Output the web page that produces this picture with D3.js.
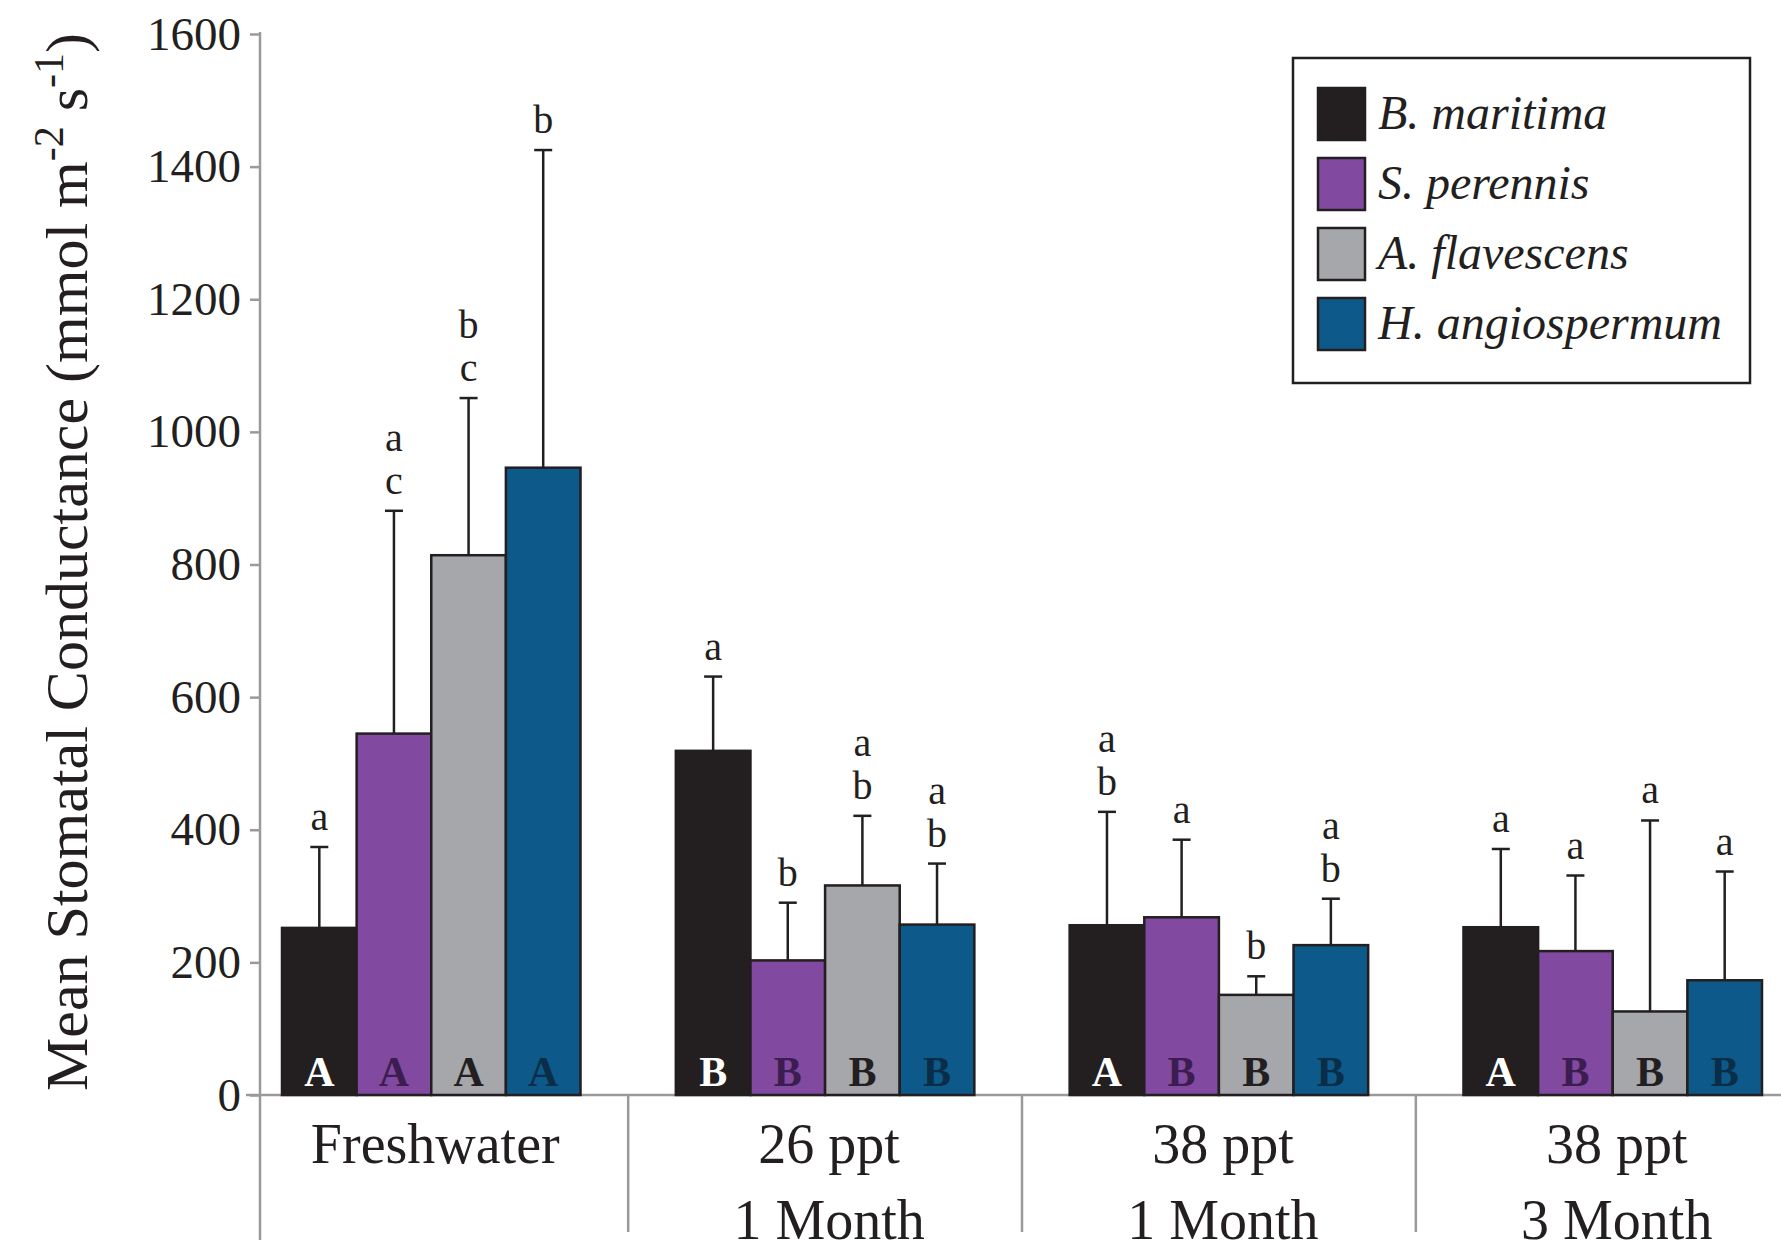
<!DOCTYPE html>
<html>
<head>
<meta charset="utf-8">
<script src="https://cdn.jsdelivr.net/npm/d3@7"></script>
<style>
  html, body { margin: 0; padding: 0; background: #fff; }
  svg { display: block; }
</style>
</head>
<body>
<svg></svg>
<script>
// treatment groups (two-line labels)
const groupLine1 = ['Freshwater', '26 ppt', '38 ppt', '38 ppt'];
const groupLine2 = ['', '1 Month', '1 Month', '3 Month'];

const species = ['B. maritima', 'S. perennis', 'A. flavescens', 'H. angiospermum'];
const colors = ['#231f20', '#8249a0', '#a5a7ab', '#0d5a8a'];
const innerLetterColors = ['#ffffff', '#3b1d50', '#231f20', '#0a2d48'];

// mean stomatal conductance per species, one value per treatment group
const bMaritima = [252, 519, 256, 253];
const sPerennis = [545, 203, 268, 217];
const aFlavescens = [814, 316, 151, 126];
const hAngiospermum = [946, 257, 226, 173];

// upper error (SE) per species
const bMaritimaErr = [122, 112, 171, 118];
const sPerennisErr = [336, 87, 117, 114];
const aFlavescensErr = [237, 105, 28, 288];
const hAngiospermumErr = [479, 92, 70, 164];

// letters above the error bars (top letter first)
const bMaritimaSig = ['a', 'a', 'ab', 'a'];
const sPerennisSig = ['ac', 'b', 'a', 'a'];
const aFlavescensSig = ['bc', 'ab', 'b', 'a'];
const hAngiospermumSig = ['b', 'ab', 'ab', 'a'];

// letters inside the bars
const bMaritimaTrt = ['A', 'B', 'A', 'A'];
const sPerennisTrt = ['A', 'B', 'B', 'B'];
const aFlavescensTrt = ['A', 'B', 'B', 'B'];
const hAngiospermumTrt = ['A', 'B', 'B', 'B'];

const yTicks = [0, 200, 400, 600, 800, 1000, 1200, 1400, 1600];

const means = [bMaritima, sPerennis, aFlavescens, hAngiospermum];
const errs = [bMaritimaErr, sPerennisErr, aFlavescensErr, hAngiospermumErr];
const sigs = [bMaritimaSig, sPerennisSig, aFlavescensSig, hAngiospermumSig];
const trts = [bMaritimaTrt, sPerennisTrt, aFlavescensTrt, hAngiospermumTrt];

const width = 1781;
const height = 1253;
const font = "'Liberation Serif', 'Times New Roman', serif";
const ink = '#231f20';
const axisGray = '#9a9a9a';

const svg = d3.select('svg')
  .attr('width', width)
  .attr('height', height)
  .style('font-family', font);

const axisX = 260;
const baseY = 1095;

const groupIdx = d3.range(groupLine1.length);

const x0 = d3.scaleBand()
  .domain(groupIdx)
  .range([282, 1762])
  .paddingInner(0.242)
  .paddingOuter(0);

const x1 = d3.scaleBand()
  .domain(d3.range(species.length))
  .range([0, x0.bandwidth()]);

const y = d3.scaleLinear()
  .domain([0, 1600])
  .range([baseY, 34]);

// flatten into bar records
const bars = [];
groupIdx.forEach(g => {
  species.forEach((s, i) => {
    bars.push({
      g, i,
      mean: means[i][g],
      err: errs[i][g],
      sig: sigs[i][g],
      trt: trts[i][g]
    });
  });
});

// y axis
const yAxis = d3.axisLeft(y)
  .tickValues(yTicks)
  .tickFormat(d3.format('d'))
  .tickSize(10)
  .tickPadding(9)
  .tickSizeOuter(0);

const yg = svg.append('g')
  .attr('transform', `translate(${axisX},0)`)
  .call(yAxis);
yg.select('.domain').remove();
yg.selectAll('.tick line').attr('stroke', axisGray).attr('stroke-width', 2.5);
yg.selectAll('.tick text')
  .attr('fill', ink)
  .style('font-family', font)
  .style('font-size', '47px');

// vertical axis line (runs down into the category area)
svg.append('line')
  .attr('x1', axisX).attr('x2', axisX)
  .attr('y1', y(1600) - 2).attr('y2', 1240)
  .attr('stroke', axisGray).attr('stroke-width', 2.5);

// baseline
svg.append('line')
  .attr('x1', axisX - 14).attr('x2', width)
  .attr('y1', baseY).attr('y2', baseY)
  .attr('stroke', axisGray).attr('stroke-width', 2.5);

// group dividers
svg.selectAll('line.divider')
  .data(groupIdx.slice(1))
  .enter()
  .append('line')
  .attr('class', 'divider')
  .attr('x1', g => x0(g) - x0.step() * x0.paddingInner() / 2)
  .attr('x2', g => x0(g) - x0.step() * x0.paddingInner() / 2)
  .attr('y1', baseY)
  .attr('y2', 1232)
  .attr('stroke', axisGray)
  .attr('stroke-width', 2.5);

// category labels
const catText = svg.selectAll('text.cat')
  .data(groupIdx)
  .enter()
  .append('text')
  .attr('class', 'cat')
  .attr('text-anchor', 'middle')
  .attr('fill', ink)
  .style('font-size', '56px');
catText.append('tspan')
  .attr('x', g => x0(g) + x0.bandwidth() / 2 + 4)
  .attr('y', 1163)
  .text(g => groupLine1[g]);
catText.append('tspan')
  .attr('x', g => x0(g) + x0.bandwidth() / 2 + 4)
  .attr('y', 1239)
  .text(g => groupLine2[g]);

// bars
const barX = d => x0(d.g) + x1(d.i);

svg.selectAll('rect.bar')
  .data(bars)
  .enter()
  .append('rect')
  .attr('class', 'bar')
  .attr('x', barX)
  .attr('y', d => y(d.mean))
  .attr('width', x1.bandwidth())
  .attr('height', d => baseY - y(d.mean))
  .attr('fill', d => colors[d.i])
  .attr('stroke', ink)
  .attr('stroke-width', 2.5);

// error bars (upper only)
const errG = svg.selectAll('g.err')
  .data(bars)
  .enter()
  .append('g')
  .attr('class', 'err')
  .attr('stroke', ink)
  .attr('stroke-width', 2.5);
errG.append('line')
  .attr('x1', d => barX(d) + x1.bandwidth() / 2)
  .attr('x2', d => barX(d) + x1.bandwidth() / 2)
  .attr('y1', d => y(d.mean))
  .attr('y2', d => y(d.mean + d.err));
errG.append('line')
  .attr('x1', d => barX(d) + x1.bandwidth() / 2 - 9)
  .attr('x2', d => barX(d) + x1.bandwidth() / 2 + 9)
  .attr('y1', d => y(d.mean + d.err))
  .attr('y2', d => y(d.mean + d.err));

// significance letters above the error bars
svg.selectAll('text.sig')
  .data(bars.flatMap(d => d.sig.split('').reverse().map((ch, k) => ({ ...d, ch, k }))))
  .enter()
  .append('text')
  .attr('class', 'sig')
  .attr('text-anchor', 'middle')
  .attr('fill', ink)
  .style('font-size', '40px')
  .attr('x', d => barX(d) + x1.bandwidth() / 2)
  .attr('y', d => y(d.mean + d.err) - 17 - d.k * 43)
  .text(d => d.ch);

// treatment letters inside bars
svg.selectAll('text.trt')
  .data(bars)
  .enter()
  .append('text')
  .attr('class', 'trt')
  .attr('text-anchor', 'middle')
  .attr('font-weight', 'bold')
  .attr('fill', d => innerLetterColors[d.i])
  .style('font-size', '42px')
  .attr('x', d => barX(d) + x1.bandwidth() / 2)
  .attr('y', baseY - 9)
  .text(d => d.trt);

// y axis title
const yTitle = svg.append('text')
  .attr('transform', `translate(87, 562) rotate(-90)`)
  .attr('text-anchor', 'middle')
  .attr('fill', ink)
  .style('font-size', '60px');
yTitle.append('tspan').text('Mean Stomatal Conductance (mmol m');
yTitle.append('tspan').attr('dy', -24).style('font-size', '42px').text('-2');
yTitle.append('tspan').attr('dy', 24).text(' s');
yTitle.append('tspan').attr('dy', -24).style('font-size', '42px').text('-1');
yTitle.append('tspan').attr('dy', 24).text(')');

// legend
const legend = svg.append('g');
legend.append('rect')
  .attr('x', 1293).attr('y', 58)
  .attr('width', 457).attr('height', 325)
  .attr('fill', '#fff')
  .attr('stroke', ink)
  .attr('stroke-width', 2.5);

const legendRow = d3.scaleBand()
  .domain(d3.range(species.length))
  .range([88, 88 + 70 * species.length]);

const items = legend.selectAll('g.item')
  .data(species)
  .enter()
  .append('g')
  .attr('class', 'item')
  .attr('transform', (d, i) => `translate(1318,${legendRow(i)})`);
items.append('rect')
  .attr('width', 47)
  .attr('height', 52)
  .attr('fill', (d, i) => colors[i])
  .attr('stroke', ink)
  .attr('stroke-width', 2.5);
items.append('text')
  .attr('x', 60)
  .attr('y', 41)
  .attr('fill', ink)
  .attr('font-style', 'italic')
  .style('font-size', '48px')
  .text(d => d);
</script>
</body>
</html>
